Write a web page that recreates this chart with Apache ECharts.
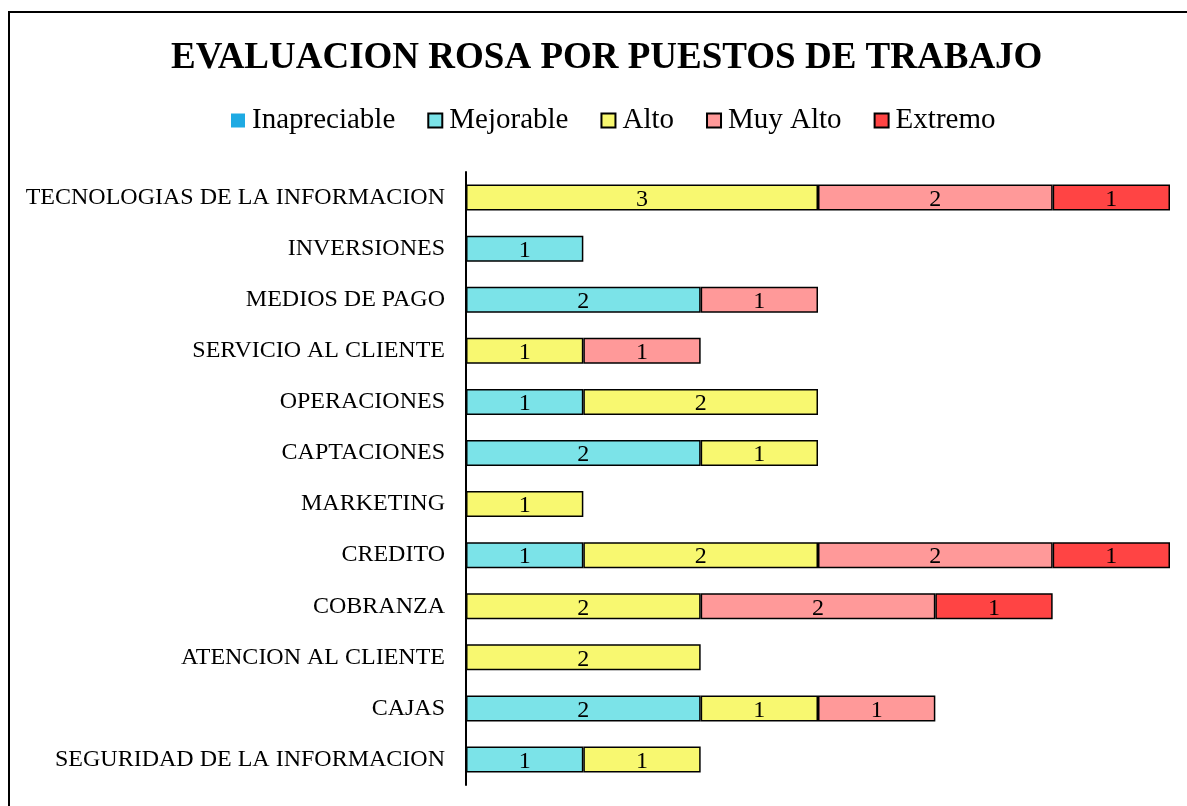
<!DOCTYPE html>
<html>
<head>
<meta charset="utf-8">
<script src="https://cdn.jsdelivr.net/npm/echarts@6/dist/echarts.min.js"></script>
<style>
    html, body { margin: 0; padding: 0; background: #fff; }
    #chart { width: 1187px; height: 806px; }
</style>
</head>
<body>
<div id="chart"></div>
<script>
// puestos de trabajo (de arriba hacia abajo)
const puestos = [
    'TECNOLOGIAS DE LA INFORMACION',
    'INVERSIONES',
    'MEDIOS DE PAGO',
    'SERVICIO AL CLIENTE',
    'OPERACIONES',
    'CAPTACIONES',
    'MARKETING',
    'CREDITO',
    'COBRANZA',
    'ATENCION AL CLIENTE',
    'CAJAS',
    'SEGURIDAD DE LA INFORMACION'
];
const inapreciable = [null, null, null, null, null, null, null, null, null, null, null, null];
const mejorable    = [null, 1, 2, null, 1, 2, null, 1, null, null, 2, 1];
const alto         = [3, null, null, 1, 2, 1, 1, 2, 2, 2, 1, 1];
const muyAlto      = [2, null, 1, 1, null, null, null, 2, 2, null, 1, null];
const extremo      = [1, null, null, null, null, null, null, 1, 1, null, null, null];

const fuente = '"Liberation Serif", "Times New Roman", serif';

function serie(nombre, datos, color, borde) {
    return {
        name: nombre,
        type: 'bar',
        stack: 'total',
        data: datos,
        barWidth: 26,
        itemStyle: {
            color: color,
            borderColor: '#000',
            borderWidth: borde
        },
        label: {
            show: true,
            position: 'inside',
            offset: [0, 2],
            color: '#000',
            fontFamily: fuente,
            fontSize: 24
        }
    };
}

let myChart = echarts.init(document.getElementById('chart'));
myChart.setOption({
    animation: false,
    backgroundColor: '#fff',
    title: {
        text: 'EVALUACION ROSA POR PUESTOS DE TRABAJO',
        left: 166,
        top: 35,
        textStyle: {
            fontFamily: fuente,
            fontWeight: 'bold',
            fontSize: 37,
            color: '#000'
        }
    },
    legend: {
        top: 101,
        left: 226,
        icon: 'rect',
        itemWidth: 14,
        itemHeight: 14,
        itemGap: 32,
        textStyle: {
            fontFamily: fuente,
            fontSize: 29,
            color: '#000',
            padding: [0, 0, 0, 2]
        },
        data: ['Inapreciable', 'Mejorable', 'Alto', 'Muy Alto', 'Extremo']
    },
    grid: {
        left: 466,
        top: 172,
        width: 704,
        height: 613,
        containLabel: false
    },
    xAxis: {
        type: 'value',
        min: 0,
        max: 6,
        show: false
    },
    yAxis: {
        type: 'category',
        inverse: true,
        data: puestos,
        axisLine: { show: true, lineStyle: { color: '#000', width: 2 } },
        axisTick: { show: false },
        axisLabel: {
            margin: 21,
            color: '#000',
            fontFamily: fuente,
            fontSize: 24
        }
    },
    graphic: [{
        type: 'rect',
        shape: { x: 9, y: 12, width: 1300, height: 900 },
        style: { fill: 'none', stroke: '#000', lineWidth: 2 },
        silent: true
    }],
    series: [
        serie('Inapreciable', inapreciable, '#1eaae3', 0),
        serie('Mejorable', mejorable, '#7be3e8', 1.5),
        serie('Alto', alto, '#f8f870', 1.5),
        serie('Muy Alto', muyAlto, '#ff9999', 1.5),
        serie('Extremo', extremo, '#ff4444', 1.5)
    ]
});
</script>
</body>
</html>
